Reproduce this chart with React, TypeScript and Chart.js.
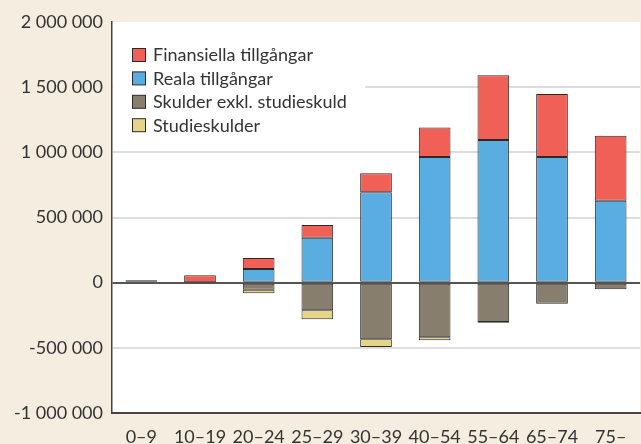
import React, { useEffect, useRef } from "react";
import { Chart, registerables } from "chart.js";
Chart.register(...registerables);

const categories = ["0–9", "10–19", "20–24", "25–29", "30–39", "40–54", "55–64", "65–74", "75–"];
const realaTillgangar = [null, 3000, 105000, 345000, 694000, 965000, 1095000, 965000, 629000];
const finansiellaTillgangar = [18000, 54000, 85000, 98000, 146000, 225000, 497000, 483000, 499000];
const skulderExklStudieskuld = [null, -6000, -54000, -212000, -434000, -419000, -302000, -161000, -51000];
const studieskulder = [null, null, -27000, -69000, -59000, -23000, -5000, null, null];
const legendOrder = ["Finansiella tillgångar", "Reala tillgångar", "Skulder exkl. studieskuld", "Studieskulder"];
const yMin = -1000000;
const yMax = 2000000;
const yStep = 500000;

const FONT = "Lato";
const TEXT = "#333333";

const fmt = (v: number) => {
  const s = String(Math.abs(v)).replace(/\B(?=(\d{3})+(?!\d))/g, " ");
  return (v < 0 ? "-" : "") + s;
};

const panelPlugin = {
  id: "panel",
  beforeDraw(chart: any) {
    const { ctx, chartArea: a, width, height } = chart;
    ctx.save();
    ctx.fillStyle = "#F5EDE0";
    ctx.fillRect(0, 0, width, height);
    ctx.fillStyle = "#ffffff";
    ctx.fillRect(a.left, a.top, a.right - a.left, a.bottom - a.top);
    ctx.restore();
  },
  beforeDatasetsDraw(chart: any) {
    const { ctx, chartArea: a } = chart;
    ctx.save();
    ctx.fillStyle = "#ffffff";
    ctx.fillRect(a.left + 1, a.top + 8, 252, 112);
    ctx.restore();
  },
  afterDatasetsDraw(chart: any) {
    const { ctx, chartArea: a } = chart;
    const ds = chart.data.datasets;
    ctx.save();
    ctx.font = `18px ${FONT}`;
    ctx.textBaseline = "middle";
    ctx.textAlign = "left";
    legendOrder.forEach((label, i) => {
      const d = ds.find((x: any) => x.label === label);
      if (!d) return;
      const bx = a.left + 20.5;
      const by = a.top + 26.5 + i * 23.4;
      ctx.fillStyle = d.backgroundColor;
      ctx.fillRect(bx, by, 13, 13);
      ctx.strokeStyle = "#2a2a2a";
      ctx.lineWidth = 1;
      ctx.strokeRect(bx, by, 13, 13);
      ctx.fillStyle = TEXT;
      ctx.fillText(label, a.left + 41, by + 7);
    });
    ctx.restore();
  },
};

export default function App() {
  const ref = useRef<HTMLCanvasElement | null>(null);
  useEffect(() => {
    if (!ref.current) return;
    const common = {
      borderColor: "#2a2a2a",
      borderWidth: 1,
      borderSkipped: false,
      stack: "s",
      barPercentage: 0.54,
      categoryPercentage: 1,
    };
    const chart = new Chart(ref.current, {
      type: "bar",
      data: {
        labels: categories,
        datasets: [
          { label: "Reala tillgångar", data: realaTillgangar, backgroundColor: "#5AADE0", ...common },
          { label: "Finansiella tillgångar", data: finansiellaTillgangar, backgroundColor: "#F06057", ...common },
          { label: "Skulder exkl. studieskuld", data: skulderExklStudieskuld, backgroundColor: "#877E6D", ...common },
          { label: "Studieskulder", data: studieskulder, backgroundColor: "#E6D587", ...common },
        ] as any,
      },
      options: {
        animation: false,
        responsive: false,
        devicePixelRatio: 1,
        layout: { padding: { top: 22, right: 1, left: 0, bottom: 0 } },
        plugins: { legend: { display: false }, tooltip: { enabled: false } },
        scales: {
          x: {
            stacked: true,
            grid: { display: false },
            border: { display: true, color: "#444444", width: 2 },
            ticks: { color: TEXT, font: { family: FONT, size: 18 }, padding: 5, maxRotation: 0 },
            afterFit: (s: any) => {
              s.height = 31;
            },
          },
          y: {
            stacked: true,
            min: yMin,
            max: yMax,
            ticks: {
              stepSize: yStep,
              color: TEXT,
              font: { family: FONT, size: 18 },
              padding: 9,
              callback: (v: any) => fmt(Number(v)),
            },
            grid: {
              drawTicks: false,
              color: (c: any) =>
                c.tick && c.tick.value === 0
                  ? "#555555"
                  : c.tick && c.tick.value === yMax
                  ? "rgba(0,0,0,0)"
                  : "#dddddd",
              lineWidth: 2,
            },
            border: { display: true, color: "#444444", width: 1.5 },
            afterFit: (s: any) => {
              s.width = 112;
            },
          },
        },
      } as any,
      plugins: [panelPlugin],
    });
    return () => chart.destroy();
  }, []);
  return (
    <div style={{ position: "fixed", left: 0, top: 0, width: 641, height: 444, background: "#F5EDE0" }}>
      <canvas ref={ref} width={641} height={444} style={{ display: "block", width: 641, height: 444 }} />
    </div>
  );
}
